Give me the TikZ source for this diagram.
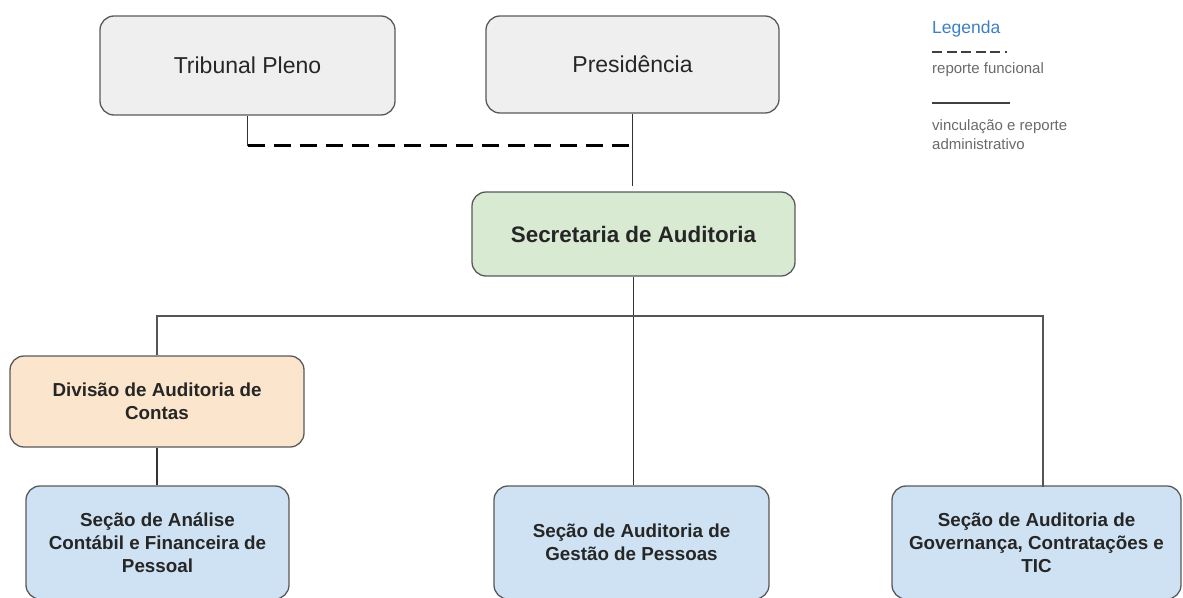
\documentclass[tikz,border=0pt]{standalone}
\usepackage{fontspec}
\setmainfont{Liberation Sans}
\usepackage{xcolor}
\usepackage{tikz}
\usetikzlibrary{positioning,calc}
\definecolor{boxgray}{HTML}{EFEFEF}
\definecolor{boxgreen}{HTML}{D9EAD3}
\definecolor{boxorange}{HTML}{FCE5CD}
\definecolor{boxblue}{HTML}{CFE2F3}
\definecolor{edgegray}{HTML}{595959}
\definecolor{buscolor}{HTML}{555555}
\definecolor{legblue}{HTML}{3D80C2}
\definecolor{leggray}{HTML}{6A6A6A}

\begin{document}
\begin{tikzpicture}[x=1pt,y=-1pt,
  unit/.style={draw=edgegray, line width=1.3pt, rounded corners=14pt, align=center, inner sep=0pt, text=black!85},
  topunit/.style={unit, fill=boxgray, font=\fontsize{23}{28}\selectfont},
  subunit/.style={unit, font=\bfseries\fontsize{18.8}{23}\selectfont},
  link/.style={draw=black!80, line width=1.4pt},
  func/.style={draw=black, line width=2.6pt, dash pattern=on 17pt off 9pt},
  legtext/.style={anchor=base west, inner sep=0pt, text=leggray, font=\fontsize{15}{19}\selectfont}]
\useasboundingbox (0,0) rectangle (1183,597);
% boxes
\node[topunit, minimum width=295pt, minimum height=99pt] (pleno) at (247.5,65.5) {Tribunal Pleno};
\node[topunit, minimum width=293pt, minimum height=97pt] (presid) at (632.5,64.5) {Presidência};
\node[unit, fill=boxgreen, minimum width=323pt, minimum height=84pt, font=\bfseries\fontsize{22.4}{27}\selectfont] (secaud) at (633.5,234) {Secretaria de Auditoria};
\node[subunit, fill=boxorange, minimum width=294pt, minimum height=91pt] (divcontas) at (157,401.5) {Divisão de Auditoria de\\Contas};
\node[subunit, fill=boxblue, minimum width=263pt, minimum height=113pt] (secpessoal) at (157.5,542.5) {Seção de Análise\\Contábil e Financeira de\\Pessoal};
\node[subunit, fill=boxblue, minimum width=275pt, minimum height=113pt] (secgestao) at (631.5,542.5) {Seção de Auditoria de\\Gestão de Pessoas};
\node[subunit, fill=boxblue, minimum width=289pt, minimum height=113pt] (secgov) at (1036.5,542.5) {Seção de Auditoria de\\Governança, Contratações e\\TIC};
\coordinate (bus) at (0,316);
\coordinate (govtop) at (1043,487);
% lines
\draw[link] (pleno.south) -- ++(0,30) coordinate (plenofunc);
\draw[func] (plenofunc) -- (plenofunc -| presid.south);
\draw[link, shorten >=5pt] (presid.south) -- (presid.south |- secaud.north);
\draw[link] (secaud.south) -- (secaud.south |- secgestao.north);
\draw[link, draw=buscolor] (divcontas.north) -- (divcontas.north |- bus) -- (govtop |- bus) -- (govtop);
\draw[link] (divcontas.south) -- (divcontas.south |- secpessoal.north);
% legenda
\node[anchor=base west, inner sep=0pt, text=legblue, font=\fontsize{17.5}{21}\selectfont] (legenda) at (932,33) {Legenda};
\coordinate (funcA) at (932,52);
\coordinate (funcB) at (1007,52);
\draw[draw=black!75, line width=1.3pt, dash pattern=on 10pt off 4.5pt] (funcA) -- (funcB);
\node[legtext] (legfunc) at (932,73) {reporte funcional};
\coordinate (admA) at (932,103);
\coordinate (admB) at (1010,103);
\draw[draw=black!75, line width=1.6pt] (admA) -- (admB);
\node[legtext] (legadm) at (932,130) {vinculação e reporte};
\node[legtext] (legadm2) at (932,149) {administrativo};
\end{tikzpicture}
\end{document}
